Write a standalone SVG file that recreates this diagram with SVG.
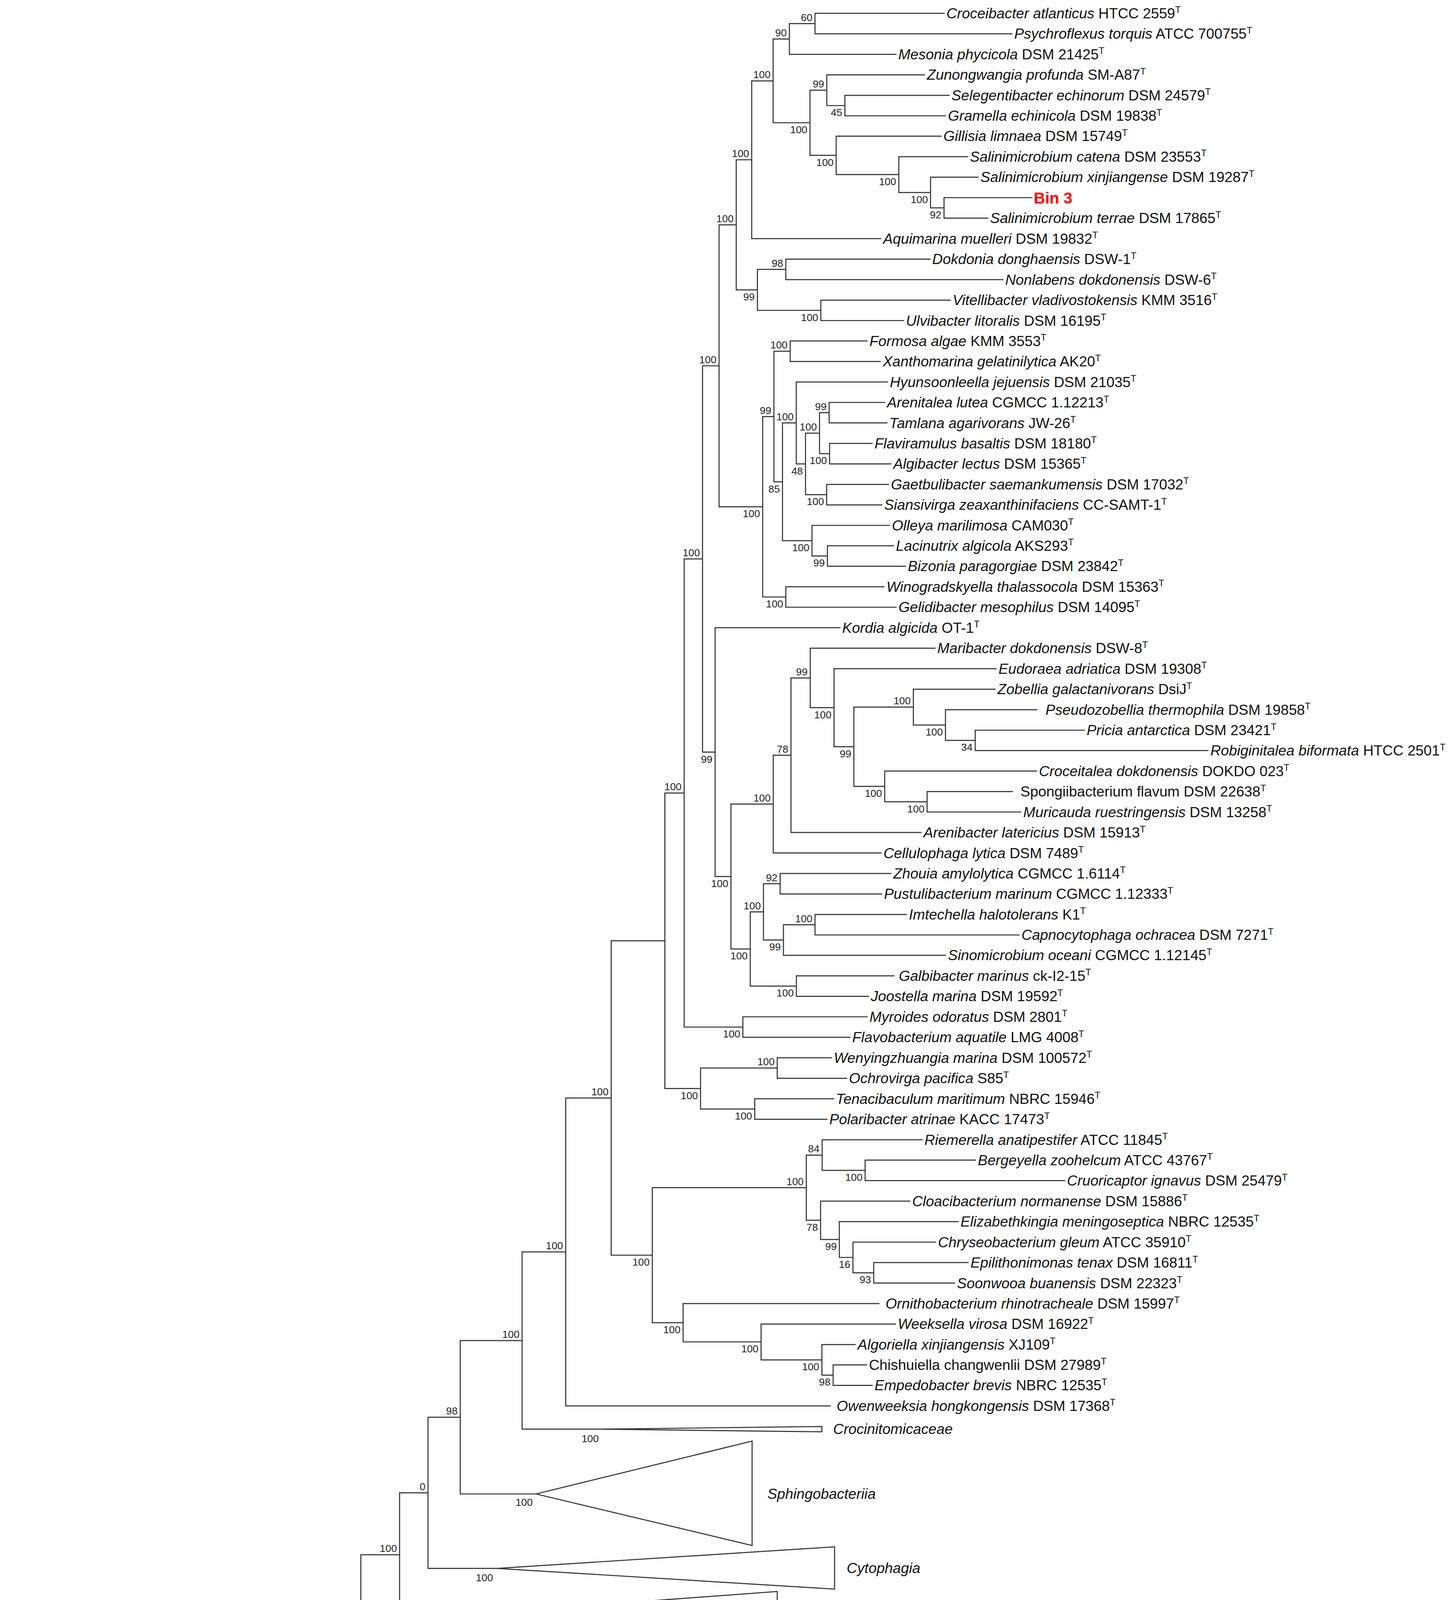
<svg xmlns="http://www.w3.org/2000/svg" width="3723" height="5306" viewBox="0 0 3723 5306">
<style>
.br{fill:none;stroke:#333;stroke-width:0.8;stroke-linecap:square}
.tri{fill:#fff;stroke:#333;stroke-width:0.8;stroke-linejoin:miter}
.lf{font-family:"Liberation Sans",Arial,sans-serif;font-size:11px;fill:#111}
.i{font-style:italic}
.t{font-size:7px}
.bs{font-family:"Liberation Sans",Arial,sans-serif;font-size:7.8px;fill:#222;text-anchor:end}
.bin{font-family:"Liberation Sans",Arial,sans-serif;font-size:12px;font-weight:bold;fill:#ff0000}
</style>
<rect width="3723" height="5306" fill="#fff"/>
<g transform="scale(3.3845)">
<g id="connectors">
<path class="br" d="M714.3,10.1H616.6V25.6H765.5 M616.6,17.85H597.2V41.1H677.8 M718,72.1H639.2V87.6H715.4 M699.4,56.6H625.5V79.85H639.2 M780.7,149.5H714.2V165H747.3 M740,134H704V157.25H714.2 M732,118.5H680V145.6H704 M712,103H632.6V132.05H680 M625.5,68.2H612.8V117.5H632.6 M597.2,29.5H584.9V92.85H612.8 M584.9,61.2H568.7V180.5H666.3 M703.5,196H594.5V211.5H758.7 M718.9,227H621V242.5H683.6 M594.5,203.75H573V234.75H621 M568.7,120.85H557V219.25H573"/>
<path class="br" d="M656,257.9H597.8V273.4H666 M669.3,304.4H627.3V319.9H671 M659.8,335.4H627.6V350.9H674 M627.3,312.15H620V343.15H627.6 M672.2,366.4H625.4V381.9H667.1 M620,327.65H609.4V374.15H625.4 M671.4,288.9H602.4V350.9H609.4 M676,412.8H626V428.3H685 M673,397.4H614.3V420.55H626 M602.4,319.9H592V408.98H614.3 M597.8,265.65H585.5V364.44H592 M668.8,443.8H594.5V459.3H678 M585.5,315.05H577V451.55H594.5 M557,170.05H544V383.3H577"/>
<path class="br" d="M820.3,552.3H737.8V567.7H913.9 M784.6,536.8H715.3V560H737.8 M752.8,521.3H691V548.4H715.3 M766,598.7H701.4V614.2H772.3 M784.2,583.2H669.3V606.45H701.4 M691,534.85H646V594.8H669.3 M753.6,505.8H631V564.8H646 M707.3,490.3H613V535.3H631 M613,512.8H598.4V629.7H696.8 M598.4,571.25H585V645.2H666.6 M674,660.7H590.2V676.2H667 M685.8,691.7H616.6V707.2H771 M616.6,699.45H592.7V722.6H715.4 M590.2,668.45H577.6V711H592.7 M676.4,738.1H602.5V753.6H657 M577.6,689.7H567.6V745.85H602.5 M585,608.2H553V717.8H567.6 M635.4,474.8H541V663H553 M544,276.7H531.5V568.9H541 M656,769.1H562V784.6H643 M531.5,422.8H517.6V776.85H562 M629,800.1H588V815.6H640.5 M630.6,831.1H571V846.6H625.6 M588,807.85H530V838.85H571 M517.6,599.8H503V823.35H530"/>
<path class="br" d="M738,877.5H654.5V893H805.4 M697.6,862.1H622V885.25H654.5 M732.4,955H661V970.5H722.2 M707.8,939.5H645.3V962.75H661 M724.8,924H635V951.1H645.3 M688.3,908.5H620.8V937.55H635 M622,873.7H610V923H620.8 M655.6,1032.4H630.3V1047.9H659.8 M647,1017H621.8V1040.15H630.3 M677.4,1001.5H575.8V1028.6H621.8 M665,986H516.8V1015H575.8 M610,898.35H493.5V1000.5H516.8 M503,711.6H462.4V949.4H493.5 M462.4,830.5H428V1063.4H628 M428,946.95H395V1081H453.6 M395,1014H348.2V1130H405.5 M348.2,1072H323.8V1186.3H376 M323.8,1129.15H302.3V1223H326"/>
<path class="br" d="M580,1283.7H573.5V1299H580 M586,1267.6H424V1291.35H573.5 M666.6,1377.6H598V1393H661.8 M644,1361.8H571V1385.3H598 M596,1346.5H444.3V1373.55H571 M444.3,1360H410V1408.6H541 M557,1330H392.3V1384.3H410 M642.8,1314.6H374V1357.15H392.3 M424,1279.5H352V1335.9H374 M396.6,1251.8H297.8V1307.7H352 M302.3,1176H273V1279.75H297.8 M453,1424H339V1439.6H459.5 M523.6,1487H442V1502.5H526.6 M475.5,1471H372.8V1494.75H442 M478,1456H312.5V1482.9H372.8 M339,1431.8H285V1469.45H312.5 M273,1227.9H143.9V1450.6H285 M143.9,1339.25H102.3V1518H247 M102.3,1428.6H5.2V1534.7H301"/>
<g id="support">
<text class="bs" x="614.6" y="15.85">60</text><text class="bs" x="595.2" y="27.5">90</text><text class="bs" x="582.9" y="59.2">100</text><text class="bs" x="623.5" y="66.2">99</text><text class="bs" x="637.2" y="87.85">45</text><text class="bs" x="610.8" y="100.85">100</text><text class="bs" x="630.6" y="125.5">100</text><text class="bs" x="678" y="140.05">100</text><text class="bs" x="702" y="153.6">100</text><text class="bs" x="712.2" y="165.25">92</text><text class="bs" x="566.7" y="118.85">100</text><text class="bs" x="592.5" y="201.75">98</text><text class="bs" x="619" y="242.75">100</text><text class="bs" x="571" y="227.25">99</text><text class="bs" x="555" y="168.05">100</text><text class="bs" x="542" y="274.7">100</text><text class="bs" x="529.5" y="420.8">100</text><text class="bs" x="515.6" y="597.8">100</text>
<text class="bs" x="595.8" y="263.65">100</text><text class="bs" x="625.3" y="310.15">99</text><text class="bs" x="625.6" y="351.15">100</text><text class="bs" x="618" y="325.65">100</text><text class="bs" x="623.4" y="382.15">100</text><text class="bs" x="607.4" y="358.9">48</text><text class="bs" x="600.4" y="317.9">100</text><text class="bs" x="624" y="428.55">99</text><text class="bs" x="612.3" y="416.98">100</text><text class="bs" x="590" y="372.44">85</text><text class="bs" x="583.5" y="313.05">99</text><text class="bs" x="592.5" y="459.55">100</text><text class="bs" x="575" y="391.3">100</text>
<text class="bs" x="539" y="576.9">99</text><text class="bs" x="551" y="671">100</text><text class="bs" x="583" y="606.2">100</text><text class="bs" x="596.4" y="569.25">78</text><text class="bs" x="611" y="510.8">99</text><text class="bs" x="629" y="543.3">100</text><text class="bs" x="644" y="572.8">99</text><text class="bs" x="689" y="532.85">100</text><text class="bs" x="713.3" y="556.4">100</text><text class="bs" x="735.8" y="568">34</text><text class="bs" x="667.3" y="602.8">100</text><text class="bs" x="699.4" y="614.45">100</text>
<text class="bs" x="588.2" y="666.45">92</text><text class="bs" x="575.6" y="687.7">100</text><text class="bs" x="614.6" y="697.45">100</text><text class="bs" x="590.7" y="719">99</text><text class="bs" x="565.6" y="725.8">100</text><text class="bs" x="600.5" y="753.85">100</text><text class="bs" x="560" y="784.85">100</text><text class="bs" x="586" y="805.85">100</text><text class="bs" x="569" y="846.85">100</text><text class="bs" x="528" y="831.35">100</text>
<text class="bs" x="620" y="871.7">84</text><text class="bs" x="652.5" y="893.25">100</text><text class="bs" x="608" y="896.35">100</text><text class="bs" x="618.8" y="931">78</text><text class="bs" x="633" y="945.55">99</text><text class="bs" x="643.3" y="959.1">16</text><text class="bs" x="659" y="970.75">93</text><text class="bs" x="491.5" y="957.4">100</text><text class="bs" x="514.8" y="1008.5">100</text><text class="bs" x="573.8" y="1023">100</text><text class="bs" x="619.8" y="1036.6">100</text><text class="bs" x="628.3" y="1048.15">98</text><text class="bs" x="426" y="944.95">100</text><text class="bs" x="460.4" y="828.5">100</text>
<text class="bs" x="393" y="1012">100</text><text class="bs" x="453" y="1091">100</text><text class="bs" x="403" y="1139">100</text><text class="bs" x="346.2" y="1070">98</text><text class="bs" x="321.8" y="1127.15">0</text><text class="bs" x="373" y="1196">100</text><text class="bs" x="300.3" y="1174">100</text><text class="bs" x="325" y="1233">100</text><text class="bs" x="271" y="1225.9">100</text>
<text class="bs" x="392" y="1249">100</text><text class="bs" x="296" y="1288">100</text><text class="bs" x="422" y="1277.5">100</text><text class="bs" x="571.5" y="1299.35">100</text><text class="bs" x="350" y="1315.7">100</text><text class="bs" x="372" y="1343.9">99</text><text class="bs" x="390.3" y="1365.15">97</text><text class="bs" x="408" y="1392.3">86</text><text class="bs" x="442.3" y="1358">100</text><text class="bs" x="569" y="1381.55">100</text><text class="bs" x="596" y="1393.3">100</text>
<text class="bs" x="141.9" y="1337.25">8</text><text class="bs" x="337" y="1429.8">100</text><text class="bs" x="283" y="1458.6">100</text><text class="bs" x="310.5" y="1477.45">90</text><text class="bs" x="370.8" y="1490.9">100</text><text class="bs" x="440" y="1502.75">100</text><text class="bs" x="247" y="1527">100</text>
</g>
</g>
<g id="leaves" class="lf">
<g id="n1"><text x="716.1" y="13.9"><tspan class="i">Croceibacter atlanticus</tspan> HTCC 2559<tspan class="t" dy="-4">T</tspan></text></g>
<g id="n2"><text x="767.3" y="29.4"><tspan class="i">Psychroflexus torquis</tspan> ATCC 700755<tspan class="t" dy="-4">T</tspan></text></g>
<g id="n3"><text x="679.6" y="44.9"><tspan class="i">Mesonia phycicola</tspan> DSM 21425<tspan class="t" dy="-4">T</tspan></text></g>
<g id="n4"><text x="701.2" y="60.4"><tspan class="i">Zunongwangia profunda</tspan> SM-A87<tspan class="t" dy="-4">T</tspan></text></g>
<g id="n5"><text x="719.8" y="75.9"><tspan class="i">Selegentibacter echinorum</tspan> DSM 24579<tspan class="t" dy="-4">T</tspan></text></g>
<g id="n6"><text x="717.2" y="91.4"><tspan class="i">Gramella echinicola</tspan> DSM 19838<tspan class="t" dy="-4">T</tspan></text></g>
<g id="n7"><text x="713.8" y="106.8"><tspan class="i">Gillisia limnaea</tspan> DSM 15749<tspan class="t" dy="-4">T</tspan></text></g>
<g id="n8"><text x="733.8" y="122.3"><tspan class="i">Salinimicrobium catena</tspan> DSM 23553<tspan class="t" dy="-4">T</tspan></text></g>
<g id="n9"><text x="741.8" y="137.8"><tspan class="i">Salinimicrobium xinjiangense</tspan> DSM 19287<tspan class="t" dy="-4">T</tspan></text></g>
<g id="bin3"><text class="bin" x="782" y="153.8">Bin 3</text></g>
<g id="n11"><text x="749.1" y="168.8"><tspan class="i">Salinimicrobium terrae</tspan> DSM 17865<tspan class="t" dy="-4">T</tspan></text></g>
<g id="n12"><text x="668.1" y="184.3"><tspan class="i">Aquimarina muelleri</tspan> DSM 19832<tspan class="t" dy="-4">T</tspan></text></g>
<g id="n13"><text x="705.3" y="199.8"><tspan class="i">Dokdonia donghaensis</tspan> DSW-1<tspan class="t" dy="-4">T</tspan></text></g>
<g id="n14"><text x="760.5" y="215.3"><tspan class="i">Nonlabens dokdonensis</tspan> DSW-6<tspan class="t" dy="-4">T</tspan></text></g>
<g id="n15"><text x="720.7" y="230.8"><tspan class="i">Vitellibacter vladivostokensis</tspan> KMM 3516<tspan class="t" dy="-4">T</tspan></text></g>
<g id="n16"><text x="685.4" y="246.3"><tspan class="i">Ulvibacter litoralis</tspan> DSM 16195<tspan class="t" dy="-4">T</tspan></text></g>
<g id="n17"><text x="657.8" y="261.7"><tspan class="i">Formosa algae</tspan> KMM 3553<tspan class="t" dy="-4">T</tspan></text></g>
<g id="n18"><text x="667.8" y="277.2"><tspan class="i">Xanthomarina gelatinilytica</tspan> AK20<tspan class="t" dy="-4">T</tspan></text></g>
<g id="n19"><text x="673.2" y="292.7"><tspan class="i">Hyunsoonleella jejuensis</tspan> DSM 21035<tspan class="t" dy="-4">T</tspan></text></g>
<g id="n20"><text x="671.1" y="308.2"><tspan class="i">Arenitalea lutea</tspan> CGMCC 1.12213<tspan class="t" dy="-4">T</tspan></text></g>
<g id="n21"><text x="672.8" y="323.7"><tspan class="i">Tamlana agarivorans</tspan> JW-26<tspan class="t" dy="-4">T</tspan></text></g>
<g id="n22"><text x="661.6" y="339.2"><tspan class="i">Flaviramulus basaltis</tspan> DSM 18180<tspan class="t" dy="-4">T</tspan></text></g>
<g id="n23"><text x="675.8" y="354.7"><tspan class="i">Algibacter lectus</tspan> DSM 15365<tspan class="t" dy="-4">T</tspan></text></g>
<g id="n24"><text x="674" y="370.2"><tspan class="i">Gaetbulibacter saemankumensis</tspan> DSM 17032<tspan class="t" dy="-4">T</tspan></text></g>
<g id="n25"><text x="668.9" y="385.7"><tspan class="i">Siansivirga zeaxanthinifaciens</tspan> CC-SAMT-1<tspan class="t" dy="-4">T</tspan></text></g>
<g id="n26"><text x="674.8" y="401.2"><tspan class="i">Olleya marilimosa</tspan> CAM030<tspan class="t" dy="-4">T</tspan></text></g>
<g id="n27"><text x="677.8" y="416.6"><tspan class="i">Lacinutrix algicola</tspan> AKS293<tspan class="t" dy="-4">T</tspan></text></g>
<g id="n28"><text x="686.8" y="432.1"><tspan class="i">Bizonia paragorgiae</tspan> DSM 23842<tspan class="t" dy="-4">T</tspan></text></g>
<g id="n29"><text x="670.6" y="447.6"><tspan class="i">Winogradskyella thalassocola</tspan> DSM 15363<tspan class="t" dy="-4">T</tspan></text></g>
<g id="n30"><text x="679.8" y="463.1"><tspan class="i">Gelidibacter mesophilus</tspan> DSM 14095<tspan class="t" dy="-4">T</tspan></text></g>
<g id="n31"><text x="637.2" y="478.6"><tspan class="i">Kordia algicida</tspan> OT-1<tspan class="t" dy="-4">T</tspan></text></g>
<g id="n32"><text x="709.1" y="494.1"><tspan class="i">Maribacter dokdonensis</tspan> DSW-8<tspan class="t" dy="-4">T</tspan></text></g>
<g id="n33"><text x="755.4" y="509.6"><tspan class="i">Eudoraea adriatica</tspan> DSM 19308<tspan class="t" dy="-4">T</tspan></text></g>
<g id="n34"><text x="754.6" y="525.1"><tspan class="i">Zobellia galactanivorans</tspan> DsiJ<tspan class="t" dy="-4">T</tspan></text></g>
<g id="n35"><text x="791" y="540.6"><tspan class="i">Pseudozobellia thermophila</tspan> DSM 19858<tspan class="t" dy="-4">T</tspan></text></g>
<g id="n36"><text x="822.1" y="556.1"><tspan class="i">Pricia antarctica</tspan> DSM 23421<tspan class="t" dy="-4">T</tspan></text></g>
<g id="n37"><text x="915.7" y="571.5"><tspan class="i">Robiginitalea biformata</tspan> HTCC 2501<tspan class="t" dy="-4">T</tspan></text></g>
<g id="n38"><text x="786" y="587"><tspan class="i">Croceitalea dokdonensis</tspan> DOKDO 023<tspan class="t" dy="-4">T</tspan></text></g>
<g id="n39"><text x="772" y="602.5">Spongiibacterium flavum DSM 22638<tspan class="t" dy="-4">T</tspan></text></g>
<g id="n40"><text x="774.1" y="618"><tspan class="i">Muricauda ruestringensis</tspan> DSM 13258<tspan class="t" dy="-4">T</tspan></text></g>
<g id="n41"><text x="698.6" y="633.5"><tspan class="i">Arenibacter latericius</tspan> DSM 15913<tspan class="t" dy="-4">T</tspan></text></g>
<g id="n42"><text x="668.4" y="649"><tspan class="i">Cellulophaga lytica</tspan> DSM 7489<tspan class="t" dy="-4">T</tspan></text></g>
<g id="n43"><text x="675.8" y="664.5"><tspan class="i">Zhouia amylolytica</tspan> CGMCC 1.6114<tspan class="t" dy="-4">T</tspan></text></g>
<g id="n44"><text x="668.8" y="680"><tspan class="i">Pustulibacterium marinum</tspan> CGMCC 1.12333<tspan class="t" dy="-4">T</tspan></text></g>
<g id="n45"><text x="687.6" y="695.5"><tspan class="i">Imtechella halotolerans</tspan> K1<tspan class="t" dy="-4">T</tspan></text></g>
<g id="n46"><text x="772.8" y="711"><tspan class="i">Capnocytophaga ochracea</tspan> DSM 7271<tspan class="t" dy="-4">T</tspan></text></g>
<g id="n47"><text x="717.2" y="726.4"><tspan class="i">Sinomicrobium oceani</tspan> CGMCC 1.12145<tspan class="t" dy="-4">T</tspan></text></g>
<g id="n48"><text x="680" y="741.9"><tspan class="i">Galbibacter marinus</tspan> ck-I2-15<tspan class="t" dy="-4">T</tspan></text></g>
<g id="n49"><text x="658.8" y="757.4"><tspan class="i">Joostella marina</tspan> DSM 19592<tspan class="t" dy="-4">T</tspan></text></g>
<g id="n50"><text x="657.8" y="772.9"><tspan class="i">Myroides odoratus</tspan> DSM 2801<tspan class="t" dy="-4">T</tspan></text></g>
<g id="n51"><text x="644.8" y="788.4"><tspan class="i">Flavobacterium aquatile</tspan> LMG 4008<tspan class="t" dy="-4">T</tspan></text></g>
<g id="n52"><text x="630.8" y="803.9"><tspan class="i">Wenyingzhuangia marina</tspan> DSM 100572<tspan class="t" dy="-4">T</tspan></text></g>
<g id="n53"><text x="642.3" y="819.4"><tspan class="i">Ochrovirga pacifica</tspan> S85<tspan class="t" dy="-4">T</tspan></text></g>
<g id="n54"><text x="632.4" y="834.9"><tspan class="i">Tenacibaculum maritimum</tspan> NBRC 15946<tspan class="t" dy="-4">T</tspan></text></g>
<g id="n55"><text x="627.4" y="850.4"><tspan class="i">Polaribacter atrinae</tspan> KACC 17473<tspan class="t" dy="-4">T</tspan></text></g>
<g id="n56"><text x="699.4" y="865.9"><tspan class="i">Riemerella anatipestifer</tspan> ATCC 11845<tspan class="t" dy="-4">T</tspan></text></g>
<g id="n57"><text x="739.8" y="881.3"><tspan class="i">Bergeyella zoohelcum</tspan> ATCC 43767<tspan class="t" dy="-4">T</tspan></text></g>
<g id="n58"><text x="807.2" y="896.8"><tspan class="i">Cruoricaptor ignavus</tspan> DSM 25479<tspan class="t" dy="-4">T</tspan></text></g>
<g id="n59"><text x="690.1" y="912.3"><tspan class="i">Cloacibacterium normanense</tspan> DSM 15886<tspan class="t" dy="-4">T</tspan></text></g>
<g id="n60"><text x="726.6" y="927.8"><tspan class="i">Elizabethkingia meningoseptica</tspan> NBRC 12535<tspan class="t" dy="-4">T</tspan></text></g>
<g id="n61"><text x="709.6" y="943.3"><tspan class="i">Chryseobacterium gleum</tspan> ATCC 35910<tspan class="t" dy="-4">T</tspan></text></g>
<g id="n62"><text x="734.2" y="958.8"><tspan class="i">Epilithonimonas tenax</tspan> DSM 16811<tspan class="t" dy="-4">T</tspan></text></g>
<g id="n63"><text x="724" y="974.3"><tspan class="i">Soonwooa buanensis</tspan> DSM 22323<tspan class="t" dy="-4">T</tspan></text></g>
<g id="n64"><text x="670" y="989.8"><tspan class="i">Ornithobacterium rhinotracheale</tspan> DSM 15997<tspan class="t" dy="-4">T</tspan></text></g>
<g id="n65"><text x="679.2" y="1005.3"><tspan class="i">Weeksella virosa</tspan> DSM 16922<tspan class="t" dy="-4">T</tspan></text></g>
<g id="n66"><text x="648.8" y="1020.8"><tspan class="i">Algoriella xinjiangensis</tspan> XJ109<tspan class="t" dy="-4">T</tspan></text></g>
<g id="n67"><text x="657.4" y="1036.2">Chishuiella changwenlii DSM 27989<tspan class="t" dy="-4">T</tspan></text></g>
<g id="n68"><text x="661.6" y="1051.7"><tspan class="i">Empedobacter brevis</tspan> NBRC 12535<tspan class="t" dy="-4">T</tspan></text></g>
<g id="n69"><text x="633" y="1067.2"><tspan class="i">Owenweeksia hongkongensis</tspan> DSM 17368<tspan class="t" dy="-4">T</tspan></text></g>
<g id="crocinitomicaceae"><polygon class="tri" points="453.6,1081 621.8,1079 621.8,1083"/><text class="i" x="630.3" y="1084.8">Crocinitomicaceae</text></g>
<g id="sphingobacteriia"><polygon class="tri" points="405.5,1130 569,1090 569,1169"/><text class="i" x="580.6" y="1133.8">Sphingobacteriia</text></g>
<g id="cytophagia"><polygon class="tri" points="376,1186.3 631.4,1170 631.4,1202"/><text class="i" x="640.6" y="1189.8">Cytophagia</text></g>
<g id="bacteroidia"><polygon class="tri" points="326,1223 588,1203.8 588,1243"/><text class="i" x="597.8" y="1225.8">Bacteroidia</text></g>
<g id="chitinophagaceae"><polygon class="tri" points="396.6,1251.8 560,1244.7 560,1258.7"/><text class="i" x="572" y="1255.6">Chitinophagaceae</text></g>
<g id="aureispira"><text x="588" y="1271.4"><tspan class="i">Aureispira</tspan> sp. CCB-QB1</text></g>
<g id="sapro1"><text x="581.8" y="1287.5"><tspan class="i">Saprospira grandis</tspan> Lewin<tspan class="t" dy="-4">T</tspan></text></g>
<g id="sapro2"><text x="581.8" y="1302.8"><tspan class="i">Saprospira grandis</tspan> DSM 2844</text></g>
<g id="bin2"><text class="bin" x="643.5" y="1318.9">Bin 2</text></g>
<g id="halisc"><text x="558.8" y="1333.8"><tspan class="i">Haliscomenobacter hydrossis</tspan> DSM 1100<tspan class="t" dy="-4">T</tspan></text></g>
<g id="lewcoh"><text x="597.8" y="1350.3"><tspan class="i">Lewinella cohaerens</tspan> DSM 23179<tspan class="t" dy="-4">T</tspan></text></g>
<g id="lewsp"><text x="645.8" y="1365.6"><tspan class="i">Lewinella</tspan> sp. 4G2</text></g>
<g id="lewper"><text x="668.4" y="1381.4"><tspan class="i">Lewinella persica</tspan> DSM 23188<tspan class="t" dy="-4">T</tspan></text></g>
<g id="lewaga"><text x="663.6" y="1396.8"><tspan class="i">Lewinella agarilytica</tspan> DSM 24740<tspan class="t" dy="-4">T</tspan></text></g>
<g id="phaeo"><text x="542.8" y="1412.4"><tspan class="i">Phaeodactylibacter xiamenensis</tspan> KD52<tspan class="t" dy="-4">T</tspan></text></g>
<g id="bin1"><text class="bin" x="453.8" y="1428.3">Bin 1</text></g>
<g id="alii"><text x="461.3" y="1443.4"><tspan class="i">Aliifodinibius roseus</tspan> DSM 21986<tspan class="t" dy="-4">T</tspan></text></g>
<g id="rhodohal"><text x="479.8" y="1459.8"><tspan class="i">Rhodohalobacter halophila</tspan> JZ3C29<tspan class="t" dy="-4">T</tspan></text></g>
<g id="gracil"><text x="477.3" y="1474.8"><tspan class="i">Gracilimonas tropica</tspan> DSM 19535<tspan class="t" dy="-4">T</tspan></text></g>
<g id="balsp"><text x="525.4" y="1490.8"><tspan class="i">Balneola</tspan> sp. EhC07</text></g>
<g id="balvul"><text x="528.4" y="1506.3"><tspan class="i">Balneola vulgaris</tspan> DSM 17893<tspan class="t" dy="-4">T</tspan></text></g>
<g id="rhodothermia"><polygon class="tri" points="247,1518 418.7,1514 418.7,1522.6"/><text class="i" x="425.6" y="1521.8">Rhodothermia</text></g>
<g id="chlorobium"><text x="303" y="1538.5"><tspan class="i">Chlorobium limicola</tspan> DSM 245<tspan class="t" dy="-4">T</tspan></text></g>
</g>
<g id="scalebar">
<path class="br" d="M38.1,1555H88.4 M38.1,1552.5V1557.5 M88.4,1552.5V1557.5"/>
<text class="bs" style="text-anchor:middle" x="63.2" y="1566">0.10</text>
</g>
</g>
</svg>
